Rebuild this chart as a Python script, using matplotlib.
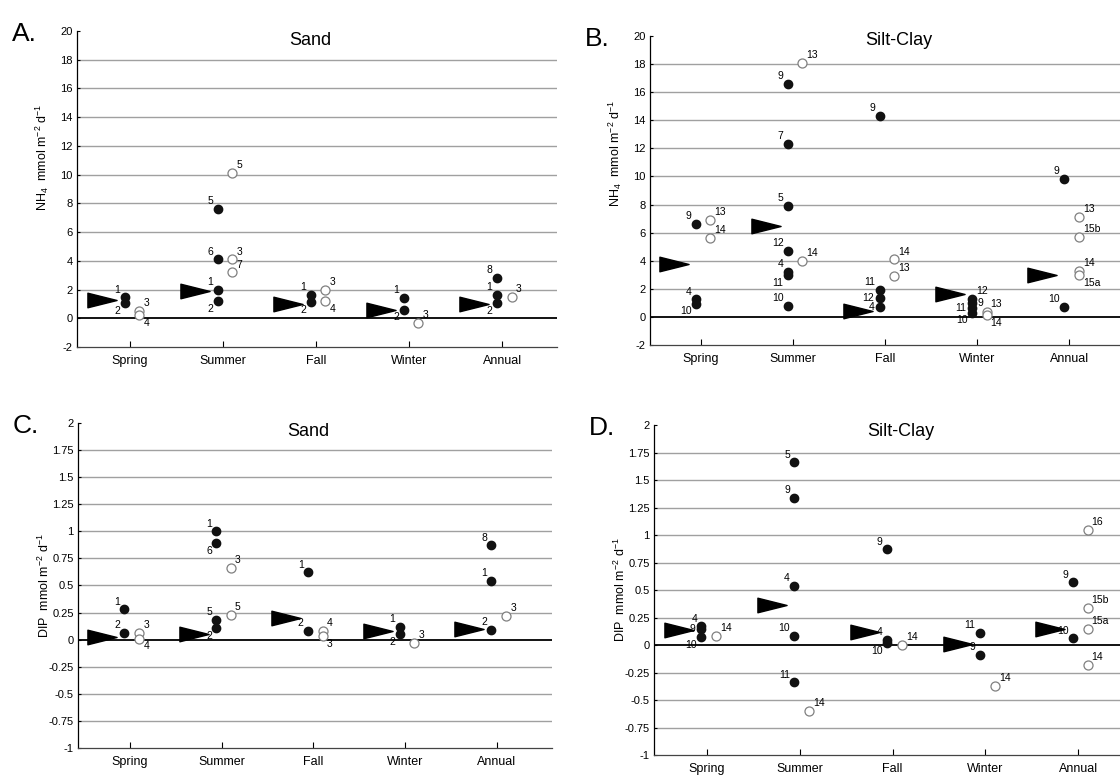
import matplotlib
matplotlib.use("Agg")
import matplotlib.pyplot as plt
from matplotlib.path import Path

plt.rcParams['font.family'] = ['Liberation Sans', 'DejaVu Sans']
plt.rcParams['mathtext.default'] = 'regular'

seasons = ["Spring", "Summer", "Fall", "Winter", "Annual"]

# A. NH4, sand
a_mean = [1.25, 1.9, 1.0, 0.55, 1.0]
a_filled = [
    [(1.45, '1'), (1.05, '2')],
    [(7.6, '5'), (4.1, '6'), (2.0, '1'), (1.2, '2')],
    [(1.6, '1'), (1.1, '2')],
    [(1.4, '1'), (0.6, '2')],
    [(2.8, '8'), (1.6, '1'), (1.05, '2')],
]
a_open = [
    [(0.5, '3'), (0.2, '4')],
    [(10.1, '5'), (4.1, '3'), (3.2, '7')],
    [(2.0, '3'), (1.2, '4')],
    [(-0.3, '3')],
    [(1.5, '3')],
]

# B. NH4, silt-clay
b_mean = [3.8, 6.5, 0.4, 1.6, 3.0]
b_filled = [
    [(6.6, '9'), (1.25, '4'), (0.95, '10')],
    [(16.6, '9'), (12.3, '7'), (7.9, '5'), (4.7, '12'), (3.2, '4'), (3.0, '11'), (0.8, '10')],
    [(14.3, '9'), (1.9, '11'), (1.35, '12'), (0.7, '4')],
    [(1.3, '12'), (1.0, '9'), (0.6, '11'), (0.3, '10')],
    [(9.8, '9'), (0.7, '10')],
]
b_open = [
    [(6.9, '13'), (5.6, '14')],
    [(18.1, '13'), (4.0, '14')],
    [(4.1, '14'), (2.9, '13')],
    [(0.35, '13'), (0.15, '14')],
    [(7.1, '13'), (5.7, '15b'), (3.3, '14'), (3.0, '15a')],
]

# C. DIP, sand
c_mean = [0.02, 0.05, 0.2, 0.08, 0.1]
c_filled = [
    [(0.28, '1'), (0.06, '2')],
    [(1.0, '1'), (0.89, '6'), (0.18, '5'), (0.11, '2')],
    [(0.62, '1'), (0.08, '2')],
    [(0.12, '1'), (0.05, '2')],
    [(0.87, '8'), (0.54, '1'), (0.09, '2')],
]
c_open = [
    [(0.06, '3'), (0.01, '4')],
    [(0.66, '3'), (0.23, '5')],
    [(0.08, '4'), (0.03, '3')],
    [(-0.03, '3')],
    [(0.22, '3')],
]

# D. DIP, silt-clay
d_mean = [0.14, 0.36, 0.12, 0.01, 0.15]
d_filled = [
    [(0.17, '4'), (0.15, '9'), (0.07, '10')],
    [(1.66, '5'), (1.34, '9'), (0.54, '4'), (0.08, '10'), (-0.34, '11')],
    [(0.87, '9'), (0.05, '4'), (0.02, '10')],
    [(0.11, '11'), (-0.09, '9')],
    [(0.57, '9'), (0.06, '10')],
]
d_open = [
    [(0.08, '14')],
    [(-0.6, '14')],
    [(0.0, '14')],
    [(-0.37, '14')],
    [(1.05, '16'), (0.34, '15b'), (0.15, '15a'), (-0.18, '14')],
]

nh4_ticks = list(range(-2, 21, 2))
dip_ticks = [-1, -0.75, -0.5, -0.25, 0, 0.25, 0.5, 0.75, 1, 1.25, 1.5, 1.75, 2]

# hand-placed labels where the stacks get crowded
label_side = {
    ('B', 3, '12'): 'ur', ('B', 3, '9'): 'r', ('B', 3, '11'): 'l', ('B', 3, '10'): 'll',
    ('B', 2, '12'): 'l', ('B', 2, '4'): 'l',
    ('B', 0, '4'): 'ul', ('B', 0, '10'): 'll',
    ('D', 0, '9'): 'l', ('D', 0, '10'): 'll',
    ('D', 2, '4'): 'ul', ('D', 2, '10'): 'll',
}

offsets = {
    'ul': (-3, 2, 'right', 'bottom'), 'l': (-4, 0, 'right', 'center'),
    'll': (-3, -2, 'right', 'top'), 'ur': (3, 2, 'left', 'bottom'),
    'r': (4, 0, 'left', 'center'), 'lr': (3, -2, 'left', 'top'),
}

arrow = Path([(-1, 0.5), (1, 0), (-1, -0.5), (-1, 0.5)],
             [Path.MOVETO, Path.LINETO, Path.LINETO, Path.CLOSEPOLY])


def draw_points(ax, key, groups, dx, filled, close):
    for i, grp in enumerate(groups):
        x = i + 1 + dx
        pts = sorted(grp, key=lambda p: -p[0])
        for k, (v, lab) in enumerate(pts):
            if filled:
                ax.plot(x, v, 'o', ms=6, color='#111111', zorder=5)
            else:
                ax.plot(x, v, 'o', ms=6.5, mfc='white', mec='#808080',
                        mew=0.9, zorder=5)
            # push label below if a neighbour sits just above it
            below = k > 0 and (pts[k - 1][0] - v) < close
            side = ('ll' if below else 'ul') if filled else ('lr' if below else 'ur')
            side = label_side.get((key, i, lab), side)
            ox, oy, ha, va = offsets[side]
            ax.annotate(lab, (x, v), xytext=(ox, oy), textcoords='offset points',
                        ha=ha, va=va, fontsize=7.5, zorder=6)


def panel(rect, letter, title, tx, ylab, ticks, xlim, mean, filled, opened, ylab_y=0.5):
    ax = fig.add_axes(rect)
    lo, hi = ticks[0], ticks[-1]
    ax.set_ylim(lo, hi)
    ax.set_xlim(*xlim)
    for t in ticks[1:-1]:
        if t == 0:
            ax.axhline(0, color='black', lw=1.3, zorder=1)
        else:
            ax.axhline(t, color='#a0a0a0', lw=1.0, zorder=1)
    ax.set_yticks(ticks)
    ax.set_yticklabels([f"{t:g}" for t in ticks], fontsize=8)
    ax.set_xticks(range(1, 6))
    ax.set_xticklabels(seasons, fontsize=9)
    ax.tick_params(axis='x', direction='in', length=4, width=0.8, pad=6)
    ax.tick_params(axis='y', direction='in', length=2, width=0.8, pad=3)
    for s in ['top', 'right']:
        ax.spines[s].set_visible(False)
    ax.spines['left'].set_linewidth(0.9)
    ax.spines['bottom'].set_linewidth(0.9)
    ax.spines['bottom'].set_color('#444444')

    close = 0.04 * (hi - lo)
    for i, m in enumerate(mean):
        ax.plot(i + 1 - 0.3, m, marker=arrow, ms=21, color='black',
                ls='none', zorder=4)
    key = letter[0]
    draw_points(ax, key, filled, -0.06, True, close)
    draw_points(ax, key, opened, 0.1, False, close)

    ax.text(tx[0], tx[1], title, transform=ax.transAxes, ha='center',
            va='center', fontsize=13)
    ax.set_ylabel(ylab, fontsize=9, labelpad=6)
    ax.yaxis.set_label_coords(-0.055, ylab_y)
    fig.text(rect[0] - 0.058, rect[1] + rect[3] + 0.012, letter, fontsize=19,
             va='top', ha='left')
    return ax


fig = plt.figure(figsize=(11.2, 7.79), dpi=100)

nh4_lab = "NH$_4$  mmol m$^{-2}$ d$^{-1}$"
dip_lab = "DIP  mmol m$^{-2}$ d$^{-1}$"

panel([0.0688, 0.5546, 0.4286, 0.4056], "A.", "Sand", (0.485, 0.97), nh4_lab,
      nh4_ticks, (0.43, 5.59), a_mean, a_filled, a_open, ylab_y=0.6)
panel([0.5804, 0.5571, 0.4196, 0.3967], "B.", "Silt-Clay", (0.53, 0.985), nh4_lab,
      nh4_ticks, (0.445, 5.55), b_mean, b_filled, b_open, ylab_y=0.62)
panel([0.0696, 0.0398, 0.4232, 0.4172], "C.", "Sand", (0.485, 0.975), dip_lab,
      dip_ticks, (0.433, 5.6), c_mean, c_filled, c_open)
panel([0.5839, 0.0308, 0.4161, 0.4236], "D.", "Silt-Clay", (0.53, 0.98), dip_lab,
      dip_ticks, (0.43, 5.45), d_mean, d_filled, d_open)

fig.savefig("out.png", dpi=100)
